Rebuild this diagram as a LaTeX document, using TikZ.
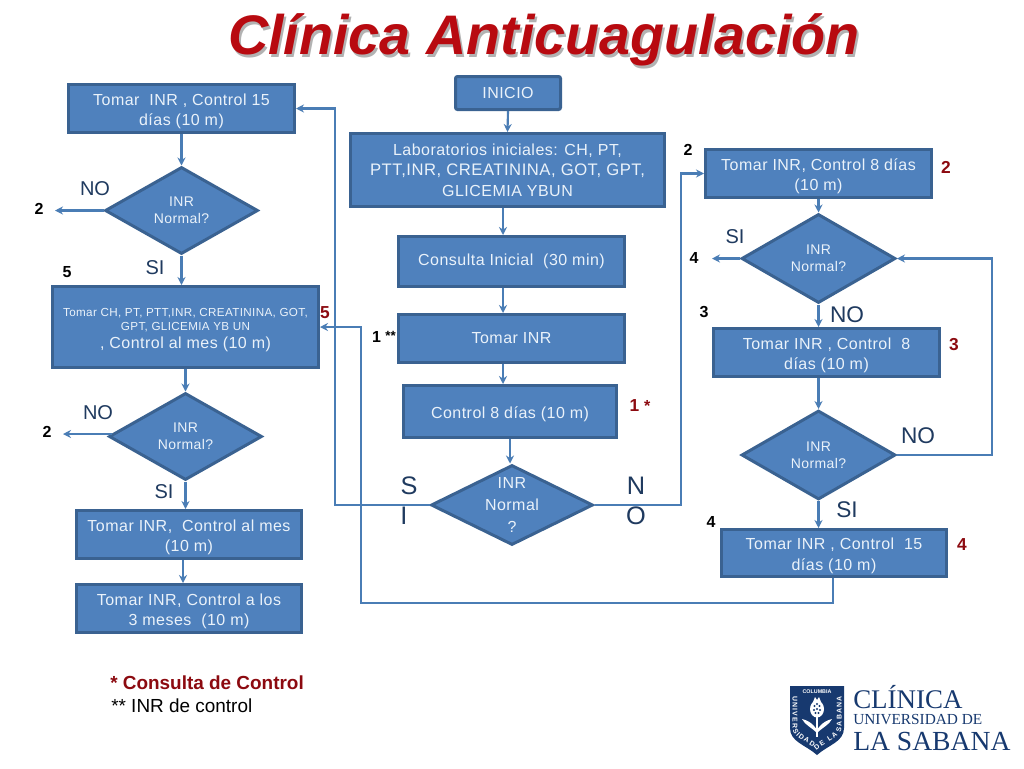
\documentclass[tikz,border=0pt]{standalone}
\usepackage{fontspec}
\setmainfont{Liberation Sans}
\newfontfamily\boxfont[LetterSpace=3]{Liberation Sans}
\newfontfamily\logofont{Liberation Serif}
\usetikzlibrary{arrows.meta,shapes.geometric,decorations.text}
\definecolor{fillblue}{HTML}{4F81BD}
\definecolor{edgeblue}{HTML}{3A6291}
\definecolor{linkblue}{HTML}{4A7DB5}
\definecolor{navytext}{HTML}{1F3A5F}
\definecolor{darkred}{HTML}{8C0A10}
\definecolor{titlered}{HTML}{B80A10}
\definecolor{logoblue}{HTML}{17396F}
\definecolor{boxtext}{HTML}{EAF2FA}
\newcommand\lowr{\rule{0pt}{13pt}}
\tikzset{
  x=0.75pt,y=-0.75pt,
  dim/.style 2 args={minimum width=#1*0.75pt-2.25pt,minimum height=#2*0.75pt-2.25pt},
  bx/.style={rectangle,draw=edgeblue,fill=fillblue,line width=2.25pt,inner sep=0pt,align=center,
    text=boxtext,font=\boxfont\fontsize{12}{15.3}\selectfont},
  dm/.style={diamond,aspect=1.8,draw=edgeblue,fill=fillblue,line width=2.25pt,inner sep=-8pt,align=center,
    text=boxtext,font=\boxfont\fontsize{10.5}{13}\selectfont,dim={156}{90}},
  link/.style={draw=linkblue,line width=1.6pt},
  arr/.style={link,-{Stealth[length=6pt,width=6pt]}},
  ans/.style={text=navytext,font=\fontsize{15}{15}\selectfont,inner sep=0pt},
  bign/.style={text=navytext,font=\fontsize{19}{19}\selectfont,inner sep=0pt},
  num/.style={text=black,font=\bfseries\fontsize{12}{12}\selectfont,inner sep=0pt},
  rnum/.style={text=darkred,font=\bfseries\fontsize{13}{13}\selectfont,inner sep=0pt},
  logotx/.style={text=logoblue,anchor=base west,inner sep=0pt},
  titletx/.style={font=\bfseries\itshape\fontsize{41.8}{41.8}\selectfont,inner sep=0pt},
}
\begin{document}
\begin{tikzpicture}
\useasboundingbox (0,0) rectangle (1024,768);
\fill[white] (0,0) rectangle (1024,768);
% title
\node[titletx,text=black!30] (titleshadow) at (546,42.5) {Clínica Anticuagulación};
\node[titletx,text=titlered] (title) at (544,40) {Clínica Anticuagulación};
% boxes
\node[bx,dim={229}{51}] (t15) at (181.5,108.5) {\lowr Tomar\ \ INR , Control 15\\días (10 m)};
\node[bx,dim={108}{36},rounded corners=1.5pt] (ini) at (508,93) {INICIO};
\node[bx,dim={317}{76}] (lab) at (507.5,170) {Laboratorios iniciales: CH, PT,\\\fontsize{12.5}{15.3}\selectfont PTT,INR, CREATININA, GOT, GPT,\\GLICEMIA YBUN};
\node[bx,dim={229}{53}] (cons) at (511.5,261.5) {Consulta Inicial\ \ (30 min)};
\node[bx,dim={229}{51}] (tinr) at (511.5,338.5) {Tomar INR};
\node[bx,dim={216}{55}] (c8) at (510,411.5) {\lowr Control 8 días (10 m)};
\node[bx,dim={229}{51}] (t8) at (818.5,173.5) {\lowr Tomar INR, Control 8 días\\(10 m)};
\node[bx,dim={229}{51}] (t8b) at (826.5,352.5) {\lowr Tomar INR , Control\ \ 8\\días (10 m)};
\node[bx,dim={228}{50}] (t15b) at (834,553) {\lowr Tomar INR , Control\ \ 15\\días (10 m)};
\node[bx,dim={269}{84}] (ch) at (185.5,327) {\fontsize{8.75}{10.5}\selectfont\rule{0pt}{11pt}Tomar CH, PT, PTT,INR, CREATININA, GOT,\\[-4.8pt]\fontsize{8.75}{10.5}\selectfont GPT, GLICEMIA YB UN\\[-1.8pt], Control al mes (10 m)};
\node[bx,dim={228}{51}] (mes) at (189,534.5) {\lowr Tomar INR,\ \ Control al mes\\(10 m)};
\node[bx,dim={228}{51}] (m3) at (189,608.5) {\lowr Tomar INR, Control a los\\3 meses\ \ (10 m)};
% diamonds
\node[dm] (d1) at (181.5,210.5) {INR\\Normal?};
\node[dm] (d2) at (185.5,436.5) {INR\\Normal?};
\node[dm,dim={165}{83},font=\boxfont\fontsize{12}{16.5}\selectfont] (d3) at (512,505) {INR\\Normal\\?};
\node[dm,dim={157}{92}] (d4) at (818.5,258.5) {INR\\Normal?};
\node[dm,dim={157}{92}] (d5) at (818.5,455) {INR\\Normal?};
% free ends and bends
\coordinate (e1) at (55,210.5);
\coordinate (e2) at (63,434);
\coordinate (e3) at (712,258.5);
\coordinate (b1) at (335,505);
\coordinate (b2) at (335,108.5);
\coordinate (b3) at (681,505);
\coordinate (b4) at (681,173.5);
\coordinate (b5) at (992,455);
\coordinate (b6) at (992,258.5);
\coordinate (b7) at (833,603);
\coordinate (b8) at (361,603);
\coordinate (b9) at (361,327);
% connectors
\draw[arr] (ini.south) -- (lab.north);
\draw[arr] (503,0 |- lab.south) -- (503,0 |- cons.north);
\draw[arr] (503,0 |- cons.south) -- (503,0 |- tinr.north);
\draw[arr] (503,0 |- tinr.south) -- (503,0 |- c8.north);
\draw[arr] (510,0 |- c8.south) -- (510,0 |- d3.north);
\draw[arr] (d3.west) -- (b1) -- (b2) -- (t15.east);
\draw[arr] (d3.east) -- (b3) -- (b4) -- (t8.west);
\draw[arr] (t15.south) -- (d1.north);
\draw[arr] (d1.west) -- (e1);
\draw[arr] (d1.south) -- (d1.south |- ch.north);
\draw[arr] (185.5,0 |- ch.south) -- (d2.north);
\draw[arr] ([xshift=3pt]d2.west |- e2) -- (e2);
\draw[arr] (d2.south) -- (d2.south |- mes.north);
\draw[arr] (183,0 |- mes.south) -- (183,0 |- m3.north);
\draw[arr] (t8.south) -- (d4.north);
\draw[arr] (d4.west) -- (e3);
\draw[arr] (d4.south) -- (d4.south |- t8b.north);
\draw[arr] (818.5,0 |- t8b.south) -- (d5.north);
\draw[arr] (d5.east) -- (b5) -- (b6) -- (d4.east);
\draw[arr] (d5.south) -- (d5.south |- t15b.north);
\draw[arr] (t15b.south -| b7) -- (b7) -- (b8) -- (b9) -- (ch.east);
% answers
\node[ans] (a1) at (95,189) {NO};
\node[ans] (a2) at (155,268) {SI};
\node[ans] (a3) at (98,413) {NO};
\node[ans] (a4) at (164,492) {SI};
\node[ans] (a5) at (735,237) {SI};
\node[ans,font=\fontsize{17}{17}\selectfont] (a6) at (847,315) {NO};
\node[ans,font=\fontsize{17}{17}\selectfont] (a7) at (918,436) {NO};
\node[ans,font=\fontsize{17}{17}\selectfont] (a8) at (847,510) {SI};
\node[bign] (s1) at (409,486) {S};
\node[bign] (s2) at (404,516) {I};
\node[bign] (n1) at (636,486) {N};
\node[bign] (n2) at (636,516) {O};
% numbers
\node[num] (k1) at (39,209) {2};
\node[num] (k2) at (67,272) {5};
\node[num] (k3) at (47,432) {2};
\node[num] (k4) at (688,150) {2};
\node[num] (k5) at (694,258) {4};
\node[num] (k6) at (704,312) {3};
\node[num] (k7) at (711,522) {4};
\node[num] (k8) at (384,337) {1 {\fontsize{10}{10}\selectfont\raisebox{1.5pt}{**}}};
\node[rnum] (r1) at (325,313) {5};
\node[rnum] (r2) at (946,167) {2};
\node[rnum] (r3) at (954,345) {3};
\node[rnum] (r4) at (962,545) {4};
\node[rnum] (r5) at (640,406) {1 {\fontsize{12}{12}\selectfont *}};
% legend
\node[anchor=west,inner sep=0pt,text=darkred,font=\bfseries\fontsize{14.2}{14.2}\selectfont] (l1) at (110,683) {* Consulta de Control};
\node[anchor=west,inner sep=0pt,text=black,font=\fontsize{14.2}{14.2}\selectfont] (l2) at (111,706) {** INR de control};
% logo
\fill[logoblue] (790,686) -- (844,686) -- (844,728) .. controls (844,742) and (828,745) .. (817,755)
  .. controls (806,745) and (790,742) .. (790,728) -- cycle;
\node[text=white,inner sep=0pt,font=\bfseries\fontsize{4}{4}\selectfont] (lg0) at (817,691.5) {COLUMBIA};
\path[decorate,decoration={text along path,text align={fit to path},
  text={|\fontsize{5.2}{5.2}\selectfont\bfseries\color{white}|UNIVERSIDAD DE LA SABANA}}]
  (792.5,696) -- (792.5,727) .. controls (792.5,738) and (807,741) .. (817,750)
  .. controls (827,741) and (841.5,738) .. (841.5,727) -- (841.5,696);
\fill[white] (817,709) ellipse (7 and 8.5);
\fill[white] (813,702) -- (815,697) -- (817,700) -- (819,697) -- (821,702) -- cycle;
\foreach \dx/\dy in {-2.5/-3,2.5/-3,0/0,-3/1,3/1,-1.5/4,1.5/4,0/-5}
  \fill[logoblue] (817+\dx,709+\dy) circle (1.1);
\draw[white,line width=1.1pt] (817,716) -- (817,737);
\fill[white] (817,730) .. controls (812,722) and (806,720) .. (802,719) .. controls (805,725) and (811,727) .. (817,733) -- cycle;
\fill[white] (817,730) .. controls (822,722) and (828,720) .. (832,719) .. controls (829,725) and (823,727) .. (817,733) -- cycle;
\node[logotx,font=\logofont\fontsize{20.2}{20.2}\selectfont] (lg1) at (853,708) {CLÍNICA};
\node[logotx,font=\logofont\fontsize{11.5}{11.5}\selectfont] (lg2) at (853,724) {UNIVERSIDAD DE};
\node[logotx,font=\logofont\fontsize{20.7}{20.7}\selectfont] (lg3) at (853,750) {LA SABANA};
\end{tikzpicture}
\end{document}
